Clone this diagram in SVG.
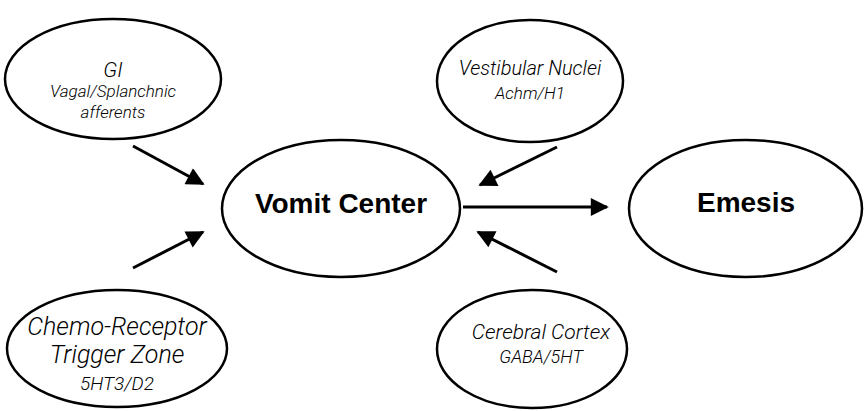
<svg xmlns="http://www.w3.org/2000/svg" width="864" height="411" viewBox="0 0 864 411">
  <style>
    .node ellipse { fill: #fff; stroke: #000; stroke-width: 2.5; }
    .t { fill: #000; text-anchor: middle; }
    .lbl, .sub { font-family: Roboto, "Liberation Sans", Arial, sans-serif; font-style: italic; font-weight: 300; }
    .lbl { font-size: 20px; }
    .sub { font-size: 17px; }
    .lg { font-size: 25px; }
    .big { font-family: "Liberation Sans", Arial, Helvetica, sans-serif; font-weight: bold; font-size: 28px; }
    .edge { stroke: #000; stroke-width: 3; fill: none; marker-end: url(#head); }
  </style>
  <defs>
    <marker id="head" viewBox="0 0 10 10" refX="9" refY="5" markerWidth="7" markerHeight="6" markerUnits="strokeWidth" orient="auto">
      <path d="M0,0 L10,5 L0,10 Z" fill="#000"/>
    </marker>
  </defs>
  <rect width="864" height="411" fill="#fff"/>

  <!-- inputs converge on the vomit center, which feeds emesis -->
  <g id="connectors">
    <line class="edge" x1="133" y1="146" x2="203" y2="184"/>
    <line class="edge" x1="133" y1="268" x2="203" y2="232"/>
    <line class="edge" x1="557" y1="147" x2="480" y2="185"/>
    <line class="edge" x1="557" y1="272" x2="478" y2="232"/>
    <line class="edge" x1="463" y1="207" x2="607" y2="207"/>
  </g>

  <g id="gi" class="node">
    <ellipse cx="113" cy="79" rx="108" ry="60"/>
    <text class="t lbl" x="113" y="77" style="font-size:21px">GI</text>
    <text class="t sub" x="113" y="97">Vagal/Splanchnic</text>
    <text class="t sub" x="113" y="118">afferents</text>
  </g>

  <g id="vestibular" class="node">
    <ellipse cx="530" cy="81" rx="93" ry="61"/>
    <text class="t lbl" x="530" y="75">Vestibular Nuclei</text>
    <text class="t sub" x="530" y="99">Achm/H1</text>
  </g>

  <g id="vomit-center" class="node">
    <ellipse cx="341" cy="208.5" rx="119" ry="68.5"/>
    <text class="t big" x="341" y="213">Vomit Center</text>
  </g>

  <g id="emesis" class="node">
    <ellipse cx="745.5" cy="208.5" rx="116.5" ry="68.5"/>
    <text class="t big" x="746" y="212">Emesis</text>
  </g>

  <g id="ctz" class="node">
    <ellipse cx="117" cy="348.5" rx="110" ry="58.5"/>
    <text class="t lbl lg" x="117" y="335">Chemo-Receptor</text>
    <text class="t lbl lg" x="117" y="363">Trigger Zone</text>
    <text class="t sub" x="117" y="390" style="font-size:19px">5HT3/D2</text>
  </g>

  <g id="cortex" class="node">
    <ellipse cx="532" cy="349" rx="95" ry="59"/>
    <text class="t lbl" x="541" y="339" style="font-size:21px">Cerebral Cortex</text>
    <text class="t sub" x="541" y="363" style="font-size:18px">GABA/5HT</text>
  </g>
</svg>
